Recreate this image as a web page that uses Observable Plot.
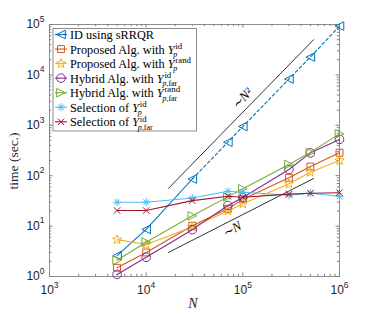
<!DOCTYPE html>
<html><head><meta charset="utf-8">
<script src="https://cdn.jsdelivr.net/npm/d3@7"></script>
<script src="https://cdn.jsdelivr.net/npm/@observablehq/plot@0.6"></script>
<style>
html,body{margin:0;padding:0;background:#fff;}
#chart svg{display:block;}
</style></head><body><div id="chart"></div>
<script>
// ---- data ----
const N        = [5e3, 1e4, 3e4, 7e4, 1e5, 3e5, 5e5, 1e6];
const idSRRQR  = [2.6, 8.6, 86, 462, 946, 8300, 22600, 93000];
const propId   = [1.49, 3.0, 10.2, 22, 34, 91, 152, 285];
const propRand = [5.4, 4.3, 9.6, 20, 27.7, 69, 117, 200];
const hybId    = [1.1, 2.4, 8.5, 25.6, 37, 133, 284, 525];
const hybRand  = [2.1, 4.8, 16, 38, 55, 167, 290, 676];
const selId    = [29.8, 29.8, 36, 49, 47, 41, 45, 39];
const selFar   = [20.4, 20.4, 32, 39, 37.4, 43, 45, 46];

const refN2X = [1.7e4, 5.4e5], refN2Y = [56, 5e4];
const refNX  = [1.7e4, 5.4e5], refNY  = [3.0, 88];

const xMajor = [1e3, 1e4, 1e5, 1e6];
const yMajor = [1, 10, 100, 1e3, 1e4, 1e5];

const seriesNames = ["ID using sRRQR", "Proposed Alg. with Y_p^id", "Proposed Alg. with Y_p^rand",
  "Hybrid Alg. with Y_p,far^id", "Hybrid Alg. with Y_p,far^rand", "Selection of Y_p^id", "Selection of Y_p,far^id"];
const seriesValues = [idSRRQR, propId, propRand, hybId, hybRand, selId, selFar];
const colors = ["#0072BD", "#D95319", "#EDB120", "#7E2F8E", "#77AC30", "#4DBEEE", "#A2142F"];
const legendParts = [
  {label: "ID using sRRQR"},
  {label: "Proposed Alg. with ", sup: "id", far: false},
  {label: "Proposed Alg. with ", sup: "rand", far: false},
  {label: "Hybrid Alg. with ", sup: "id", far: true},
  {label: "Hybrid Alg. with ", sup: "rand", far: true},
  {label: "Selection of ", sup: "id", far: false},
  {label: "Selection of ", sup: "id", far: true}
];

// minor tick positions (log decades)
const xMinor = [], yMinor = [];
for (let e = 3; e < 6; e++) for (let m = 2; m <= 9; m++) xMinor.push(m * 10 ** e);
for (let e = 0; e < 5; e++) for (let m = 2; m <= 9; m++) yMinor.push(m * 10 ** e);

// ---- symbols ----
const R = s => Math.sqrt(s / Math.PI);
const symbols = [
  {draw(c, s) { const r = R(s); c.moveTo(-r, 0); c.lineTo(r, -r); c.lineTo(r, r); c.closePath(); }},
  {draw(c, s) { const r = R(s) * 0.8; c.rect(-r, -r, 2 * r, 2 * r); }},
  {draw(c, s) { const Ro = R(s) * 1.15, ri = Ro * 0.42;
    for (let i = 0; i < 10; i++) { const a = -Math.PI / 2 + i * Math.PI / 5, rr = i % 2 ? ri : Ro;
      if (i === 0) c.moveTo(rr * Math.cos(a), rr * Math.sin(a)); else c.lineTo(rr * Math.cos(a), rr * Math.sin(a)); }
    c.closePath(); }},
  {draw(c, s) { const r = R(s); c.moveTo(r, 0); c.arc(0, 0, r, 0, 2 * Math.PI); }},
  {draw(c, s) { const r = R(s); c.moveTo(r, 0); c.lineTo(-r, -r); c.lineTo(-r, r); c.closePath(); }},
  {draw(c, s) { const r = R(s) * 0.95;
    for (const a of [0, 45, 90, 135]) { const t = a * Math.PI / 180;
      c.moveTo(r * Math.cos(t), r * Math.sin(t)); c.lineTo(-r * Math.cos(t), -r * Math.sin(t)); } }},
  {draw(c, s) { const r = R(s) * 0.75; c.moveTo(-r, -r); c.lineTo(r, r); c.moveTo(-r, r); c.lineTo(r, -r); }}
];

const W = 374, H = 314, mL = 49, mR = 35, mT = 24, mB = 38;
const iW = W - mL - mR, iH = H - mT - mB;
const axisColor = "#808080";
const rDot = 4.3;

const rows = seriesValues.map(vals => vals.map((v, i) => ({N: N[i], t: v})));

const marks = [
  Plot.frame({stroke: axisColor, strokeWidth: 0.9}),
  // inward ticks
  Plot.ruleX(xMajor, {x: d => d, insetTop: iH - 3.5, stroke: axisColor}),
  Plot.ruleX(xMajor, {x: d => d, insetBottom: iH - 3.5, stroke: axisColor}),
  Plot.ruleX(xMinor, {x: d => d, insetTop: iH - 2.2, stroke: axisColor}),
  Plot.ruleX(xMinor, {x: d => d, insetBottom: iH - 2.2, stroke: axisColor}),
  Plot.ruleY(yMajor, {y: d => d, insetRight: iW - 3.5, stroke: axisColor}),
  Plot.ruleY(yMajor, {y: d => d, insetLeft: iW - 3.5, stroke: axisColor}),
  Plot.ruleY(yMinor, {y: d => d, insetRight: iW - 2.2, stroke: axisColor}),
  Plot.ruleY(yMinor, {y: d => d, insetLeft: iW - 2.2, stroke: axisColor}),
  Plot.axisX({ticks: xMajor, tickSize: 0, tickPadding: 9, label: null,
    tickFormat: d => String(Math.round(Math.log10(d))), fontSize: 12, fill: "#262626"}),
  Plot.axisY({ticks: yMajor, tickSize: 0, tickPadding: 5, label: null,
    tickFormat: d => String(Math.round(Math.log10(d))), fontSize: 12, fill: "#262626"}),
  // reference slopes
  Plot.line(refN2X.map((x, i) => ({x, y: refN2Y[i]})), {x: "x", y: "y", stroke: "#000", strokeWidth: 0.8}),
  Plot.line(refNX.map((x, i) => ({x, y: refNY[i]})), {x: "x", y: "y", stroke: "#000", strokeWidth: 0.8}),
  Plot.text([{x: 98000, y: 3400}], {x: "x", y: "y", text: () => "∼N²", rotate: -46,
    fontFamily: "Liberation Serif", fontStyle: "italic", fontSize: 13, fill: "#000"}),
  Plot.text([{x: 77000, y: 8.6}], {x: "x", y: "y", text: () => "∼N", rotate: -27,
    fontFamily: "Liberation Serif", fontStyle: "italic", fontSize: 13, fill: "#000"})
];

rows.forEach((rs, k) => {
  if (k === 0) {
    marks.push(Plot.line(rs.filter(d => d.N <= 3e4), {x: "N", y: "t", stroke: colors[k], strokeWidth: 1.1}));
    marks.push(Plot.line(rs.filter(d => d.N >= 3e4), {x: "N", y: "t", stroke: colors[k], strokeWidth: 1.1, strokeDasharray: "3,2.5"}));
  } else {
    marks.push(Plot.line(rs, {x: "N", y: "t", stroke: colors[k], strokeWidth: 1.1}));
  }
  marks.push(Plot.dot(rs, {x: "N", y: "t", stroke: colors[k], fill: "none", symbol: symbols[k], r: rDot, strokeWidth: 1}));
});

const plot = Plot.plot({
  width: W, height: H, marginLeft: mL, marginRight: mR, marginTop: mT, marginBottom: mB,
  x: {type: "log", domain: [1e3, 1e6]},
  y: {type: "log", domain: [1, 1e5]},
  style: {fontFamily: "Liberation Sans, Arial, sans-serif", background: "#fff", overflow: "visible"},
  marks
});
document.getElementById("chart").appendChild(plot);

// superscript tick labels 10^k
for (const sel of ['g[aria-label="x-axis tick label"] text', 'g[aria-label="y-axis tick label"] text']) {
  plot.querySelectorAll(sel).forEach(t => {
    const e = t.textContent;
    t.textContent = "";
    const a = document.createElementNS("http://www.w3.org/2000/svg", "tspan"); a.textContent = "10";
    const b = document.createElementNS("http://www.w3.org/2000/svg", "tspan"); b.textContent = e;
    b.setAttribute("dy", "-6.5"); b.setAttribute("font-size", "8.5");
    t.appendChild(a); t.appendChild(b);
  });
}

const svg = d3.select(plot);
// axis labels
svg.append("text").attr("transform", "translate(13,161) rotate(-90)").attr("text-anchor", "middle")
  .attr("dy", "0.35em").attr("font-family", "Liberation Serif").attr("font-size", 13.5).attr("fill", "#262626")
  .text("time (sec.)");
svg.append("text").attr("x", 193).attr("y", 307.5).attr("text-anchor", "middle")
  .attr("font-family", "Liberation Serif").attr("font-style", "italic").attr("font-size", 14).attr("fill", "#262626")
  .text("N");

// legend
const lg = svg.append("g").attr("font-family", "Liberation Serif").attr("fill", "#000").attr("text-anchor", "start");
lg.append("rect").attr("x", 53).attr("y", 28.5).attr("width", 143.5).attr("height", 102.5)
  .attr("fill", "#fff").attr("stroke", axisColor).attr("stroke-width", 0.9);
legendParts.forEach((it, i) => {
  const cy = 34.5 + i * 14.55;
  lg.append("line").attr("x1", 55).attr("x2", 67).attr("y1", cy).attr("y2", cy)
    .attr("stroke", colors[i]).attr("stroke-width", 1.1);
  lg.append("path").attr("transform", `translate(61,${cy})`)
    .attr("d", d3.symbol(symbols[i], rDot * rDot * Math.PI)())
    .attr("fill", "none").attr("stroke", colors[i]).attr("stroke-width", 1);
  const t = lg.append("text").attr("x", 70).attr("y", cy + 4.5).attr("font-size", 12.3).attr("text-anchor", "start");
  t.append("tspan").text(it.label);
  if (it.sup) {
    t.append("tspan").attr("font-style", "italic").text("Y");
    const w = t.node().getComputedTextLength();
    lg.append("text").attr("x", 70 + w + 0.8).attr("y", cy - 0.3).attr("font-size", 8.8).attr("text-anchor", "start").text(it.sup);
    const sub = lg.append("text").attr("x", 70 + w - 1.2).attr("y", cy + 7.8).attr("font-size", 8).attr("text-anchor", "start");
    sub.append("tspan").attr("font-style", "italic").text("p");
    if (it.far) sub.append("tspan").text(",far");
  }
});
</script>
</body></html>
